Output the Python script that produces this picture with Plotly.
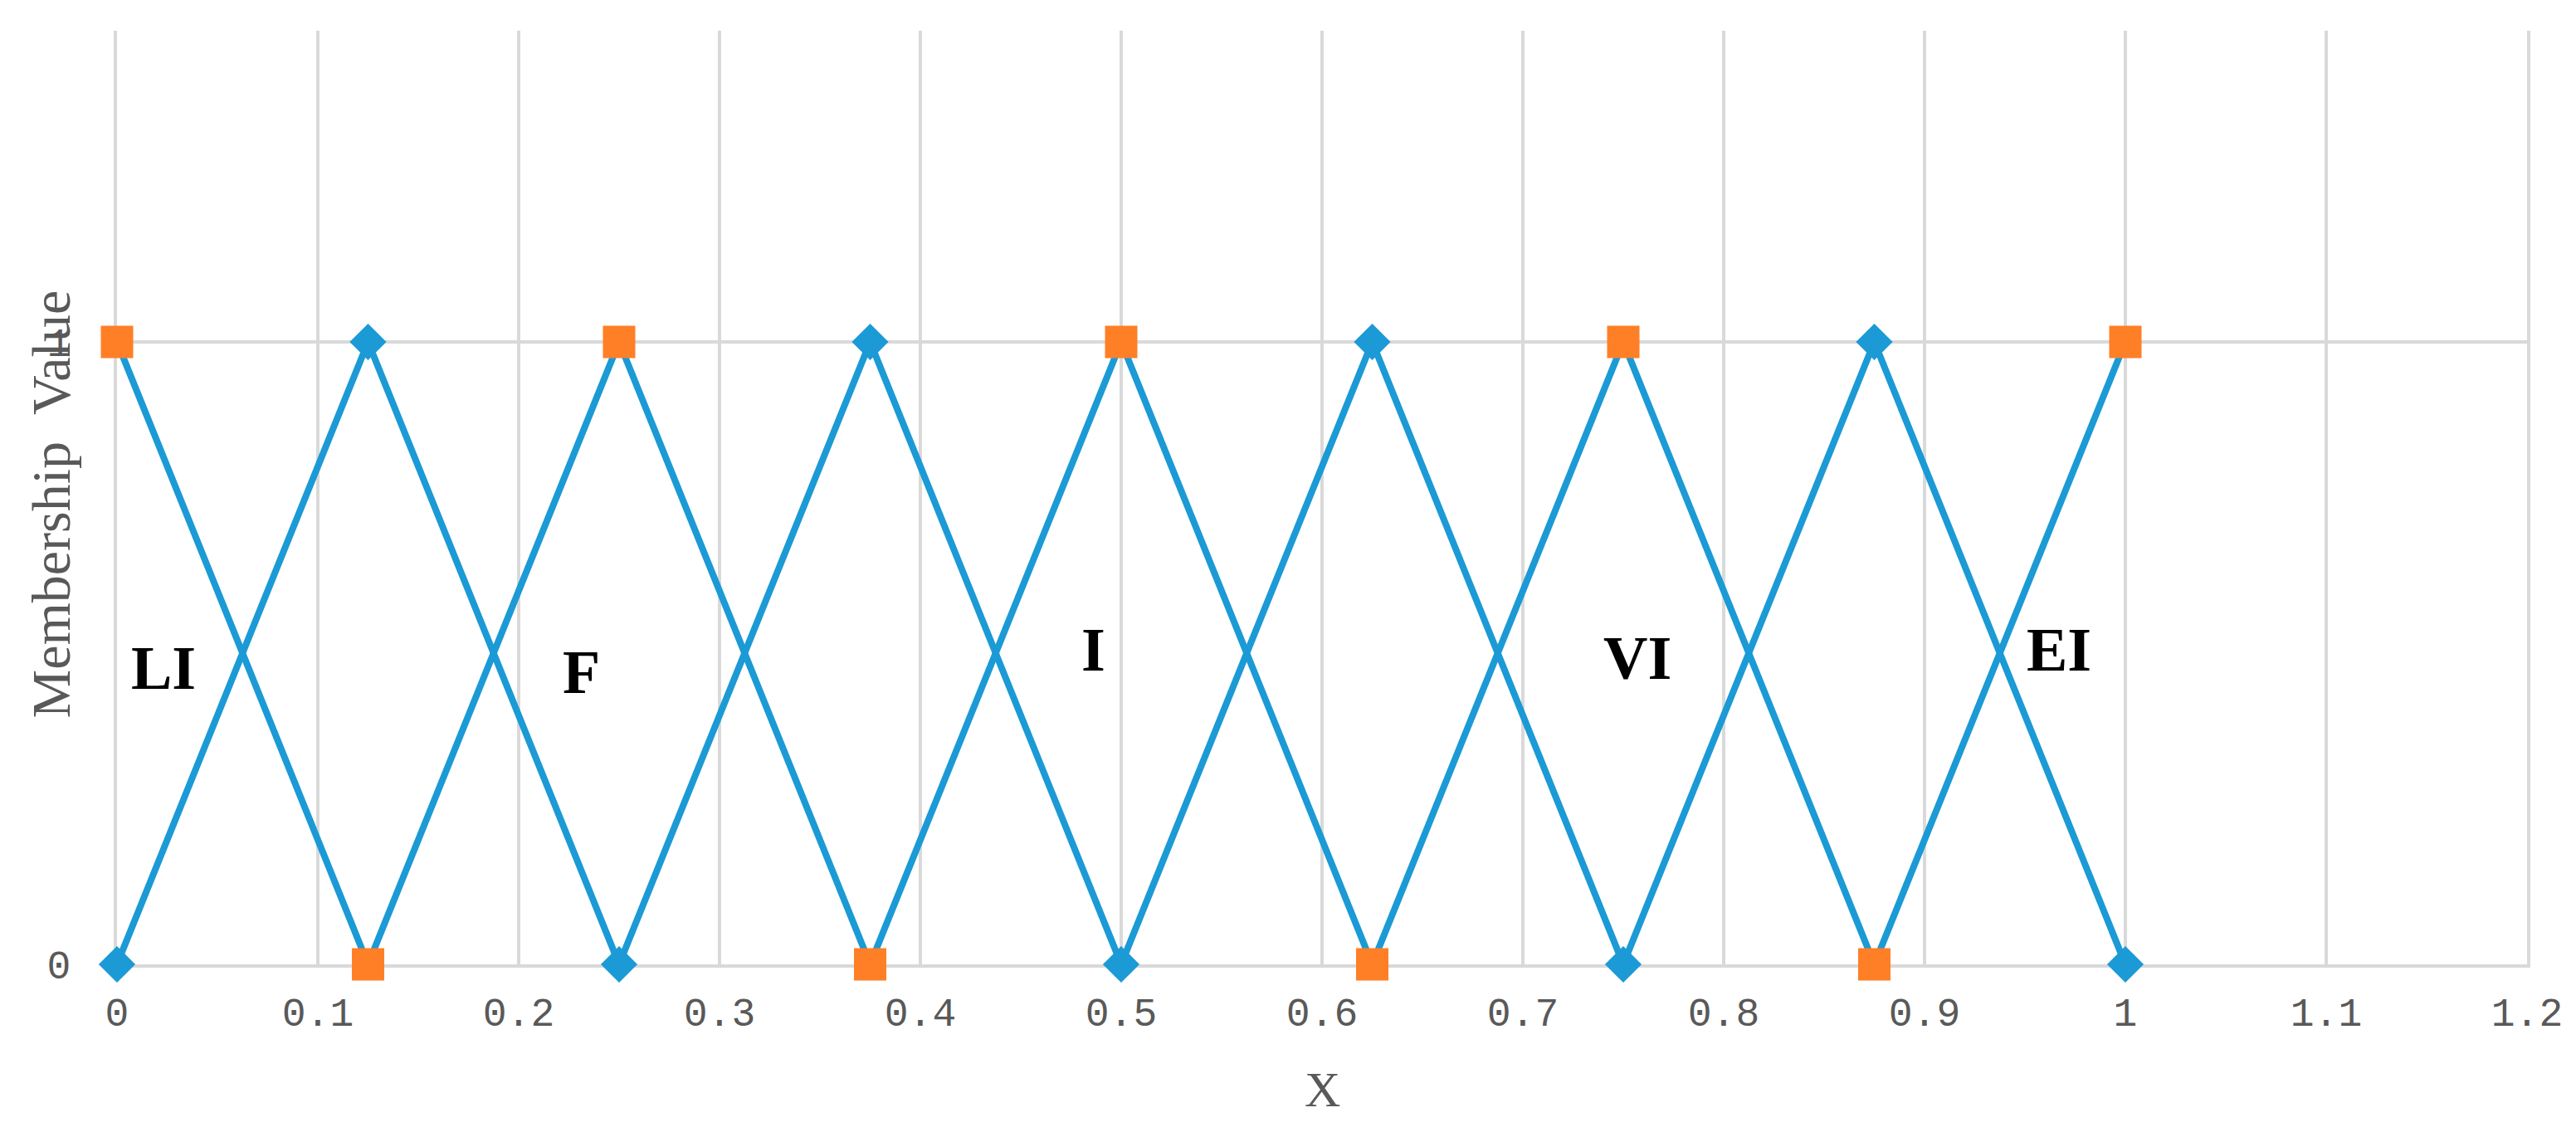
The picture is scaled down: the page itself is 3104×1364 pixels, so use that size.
import plotly.graph_objects as go

# membership function break points
x_points = [0, 0.125, 0.25, 0.375, 0.5, 0.625, 0.75, 0.875, 1]
series_diamond = [0, 1, 0, 1, 0, 1, 0, 1, 0]
series_square = [1, 0, 1, 0, 1, 0, 1, 0, 1]

# linguistic term labels
term_labels = ["LI", "F", "I", "VI", "EI"]
term_x = [0.023, 0.231, 0.486, 0.757, 0.967]
term_y = [0.476, 0.47, 0.505, 0.492, 0.505]

blue = "#1b9ad6"
orange = "#ff7f27"
grid = "#d9d9d9"
gray = "#595959"

fig = go.Figure()

fig.add_trace(go.Scatter(
    x=x_points, y=series_diamond, mode="lines+markers",
    line=dict(color=blue, width=8),
    marker=dict(symbol="diamond", size=34, color=blue),
    cliponaxis=False, showlegend=False,
))
fig.add_trace(go.Scatter(
    x=x_points, y=series_square, mode="lines+markers",
    line=dict(color=blue, width=8),
    marker=dict(symbol="square", size=39, color=orange),
    cliponaxis=False, showlegend=False,
))

for txt, tx, ty in zip(term_labels, term_x, term_y):
    fig.add_annotation(
        x=tx, y=ty, text=f"<b>{txt}</b>", showarrow=False,
        font=dict(family="Liberation Serif", size=74, color="black"),
    )

# axis titles
fig.add_annotation(
    xref="paper", yref="paper", x=0.5, y=-0.134, text="X", showarrow=False,
    font=dict(family="Liberation Serif", size=60, color=gray),
    yanchor="middle",
)
fig.add_annotation(
    xref="paper", yref="paper", x=-0.0275, y=0.493, text="Membership  Value",
    showarrow=False, textangle=-90,
    font=dict(family="Liberation Serif", size=66, color=gray),
    xanchor="center", yanchor="middle",
)

fig.update_layout(
    width=3104, height=1364, autosize=False,
    margin=dict(l=133, r=67, t=29, b=210),
    plot_bgcolor="white", paper_bgcolor="white",
    xaxis=dict(
        range=[0, 1.2], tick0=0, dtick=0.1, showgrid=True, gridcolor=grid,
        gridwidth=4, zeroline=True, zerolinecolor=grid, zerolinewidth=4,
        showline=True, linecolor=grid, linewidth=4, layer="below traces",
        ticks="outside", ticklen=12, tickcolor="rgba(0,0,0,0)",
        tickfont=dict(family="Liberation Mono", size=48, color=gray),
    ),
    yaxis=dict(
        range=[0, 1.5], tick0=0, dtick=1, showgrid=True, gridcolor=grid,
        gridwidth=4, zeroline=True, zerolinecolor=grid, zerolinewidth=4,
        showline=True, mirror=True, linecolor=grid, linewidth=4,
        layer="below traces",
        ticks="outside", ticklen=42, tickcolor="rgba(0,0,0,0)",
        tickfont=dict(family="Liberation Mono", size=48, color=gray),
    ),
)

fig.write_html("out.html")
